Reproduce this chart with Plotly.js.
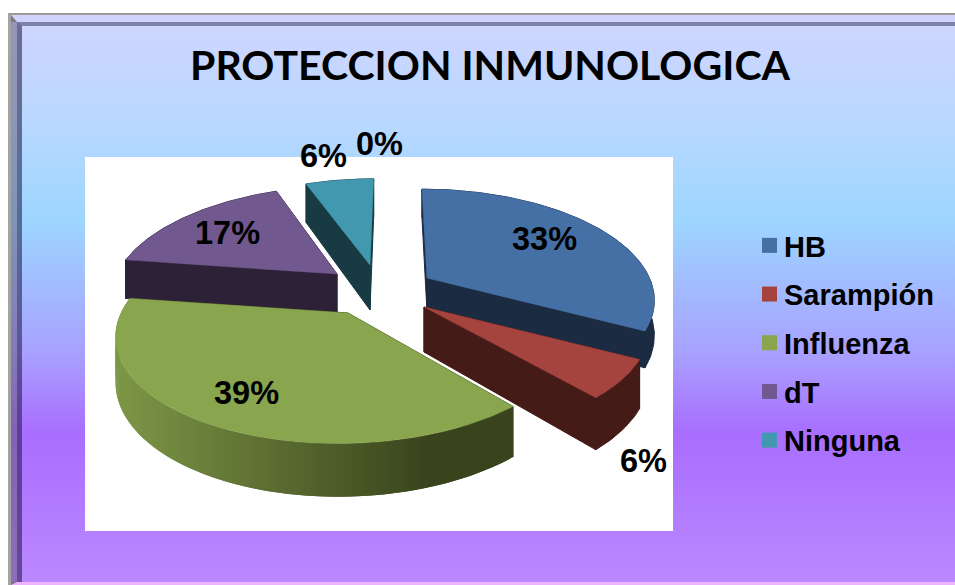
<!DOCTYPE html>
<html>
<head>
<meta charset="utf-8">
<script src="https://cdn.plot.ly/plotly-3.0.1.min.js"></script>
<style>
html,body{margin:0;padding:0;background:#fff;overflow:hidden;width:955px;height:585px}
#f1,#f2,#f3,#f4{position:absolute;box-sizing:border-box}
#f1{left:8px;top:13px;width:960px;height:580px;background:#9b9b94;border-style:solid;border-color:#9b9b94 transparent #9a86a8 #a3a3a3;border-width:2px 0 8px 3px}
#f2{left:0;top:0;right:0;bottom:0;background:linear-gradient(180deg,#ced5ff 0%,#b8d8ff 18%,#9dd6ff 35%,#a8a0ff 59%,#a86eff 73%,#bb88ff 100%);background-origin:border-box;border-style:solid;border-color:#d0d3fb transparent #ecb4ff rgba(95,85,110,.5);border-width:7px 0 3px 6px}
#f3{left:0;top:0;right:0;bottom:0;border-style:solid;border-color:#7e82aa transparent transparent rgba(30,20,70,.55);border-width:4px 0 0 5px}
#f4{left:0;top:0;right:0;bottom:0;background:linear-gradient(180deg,#ced5ff 0%,#b8d8ff 18%,#9dd6ff 35%,#a8a0ff 59%,#a86eff 73%,#bb88ff 100%)}
#chart{position:absolute;left:0;top:0;width:955px;height:585px}
</style>
</head>
<body>
<div id="f1"><div id="f2"><div id="f3"><div id="f4"></div></div></div></div>
<div id="chart"></div>
<script>
// Data
const categories = ['HB', 'Sarampión', 'Influenza', 'dT', 'Ninguna', ''];
const values = [33, 6, 39, 17, 6, 0];
const chartTitle = 'PROTECCION INMUNOLOGICA';

// Styles and layout (pixel-like axis space)
const topColors = ['#4470a5', '#a5433f', '#89a54e', '#71588f', '#4198af'];
const wallColors = ['#1a2b42', '#451b18', '#39441d', '#2c2136', '#183a43'];
const sliceCentreX = [427, 424, 348, 337, 370];
const sliceCentreY = [278, 307, 313, 274, 265];
const sliceRadiusScale = [0.98, 0.97, 1.0, 0.97, 0.95];
const sliceDepthScale = [0.75, 1, 0.97, 0.88, 1];
const labelX = [544, 643, 246, 227, 323, 379];
const labelY = [239, 461, 393, 233, 156, 144];
const drawOrder = [4, 3, 0, 1, 2];
const RX = 227, RY = 107, K = 0.18, VPX = 394, DEPTH = 45;

const total = values.reduce((a, b) => a + b, 0);
const starts = [];
values.reduce((acc, v, i) => { starts[i] = acc; return acc + v / total * 360; }, 0);

function project(i, deg) {
  const t = deg * Math.PI / 180, u = Math.sin(t), v = -Math.cos(t);
  const s = 1 / (1 - K * v);
  const r = sliceRadiusScale[i];
  return {
    x: VPX + (sliceCentreX[i] + RX * r * u - VPX) * s,
    y: sliceCentreY[i] + RY * r * v * s,
    d: DEPTH * sliceDepthScale[i] * s
  };
}
function poly(xs, ys, color, width) {
  return { type: 'scatter', mode: 'lines', x: xs.concat([xs[0]]), y: ys.concat([ys[0]]),
    fill: 'toself', fillcolor: color, line: { color: color, width: width },
    hoverinfo: 'skip', showlegend: false };
}
function lerpColor(a, b, t) {
  return 'rgb(' + a.map((c, j) => Math.round(c + (b[j] - c) * t)).join(',') + ')';
}

const traces = [];
drawOrder.forEach(i => {
  const a0 = starts[i], a1 = a0 + values[i] / total * 360;
  const ax = sliceCentreX[i], ay = sliceCentreY[i], ad = DEPTH * sliceDepthScale[i];
  const steps = Math.max(8, Math.round(a1 - a0));
  const rim = [];
  for (let k = 0; k <= steps; k++) rim.push(project(i, a0 + (a1 - a0) * k / steps));
  const first = rim[0], last = rim[rim.length - 1];
  // radial walls
  traces.push(poly([ax, first.x, first.x, ax], [ay, first.y, first.y + first.d, ay + ad], wallColors[i], 1));
  traces.push(poly([ax, last.x, last.x, ax], [ay, last.y, last.y + last.d, ay + ad], wallColors[i], 1));
  // outer wall
  if (i === 2) {
    for (let k = 0; k < steps; k++) {
      const p = rim[k], q = rim[Math.min(steps, k + 2)];
      const t = Math.min(1, Math.max(0, (rim[k].x - 120) / 310));
      traces.push(poly([p.x, q.x, q.x, p.x], [p.y, q.y, q.y + q.d, p.y + p.d],
        lerpColor([125, 150, 70], [57, 68, 29], t), 0));
    }
  } else {
    traces.push(poly(rim.map(p => p.x).concat(rim.map(p => p.x).reverse()),
      rim.map(p => p.y).concat(rim.map(p => p.y + p.d).reverse()), wallColors[i], 1));
  }
  // top face
  traces.push(poly([ax].concat(rim.map(p => p.x)), [ay].concat(rim.map(p => p.y)), topColors[i], 0.5));
});

// Legend entries
categories.forEach((c, i) => {
  if (!c) return;
  traces.push({ type: 'scatter', mode: 'markers', x: [null], y: [null], name: c, legendgroup: c,
    marker: { symbol: 'square', size: 15, color: topColors[i] }, hoverinfo: 'skip', showlegend: true });
});

const annotations = values.map((v, i) => ({
  x: labelX[i], y: labelY[i], xref: 'x', yref: 'y', text: '<b>' + v + '%</b>', showarrow: false,
  xanchor: 'center', yanchor: 'middle',
  font: { family: 'Liberation Sans', size: 32.5, color: '#000' }
}));
annotations.push({ x: 490.5, y: 64, xref: 'x', yref: 'y', text: '<b>' + chartTitle + '</b>', showarrow: false,
  xanchor: 'center', yanchor: 'middle', font: { family: 'Lato', size: 41, color: '#000' } });

const layout = {
  width: 955, height: 585, margin: { l: 0, r: 0, t: 0, b: 0 },
  paper_bgcolor: 'rgba(0,0,0,0)', plot_bgcolor: 'rgba(0,0,0,0)',
  xaxis: { range: [0, 955], visible: false, fixedrange: true },
  yaxis: { range: [585, 0], visible: false, fixedrange: true },
  shapes: [{ type: 'rect', layer: 'below', xref: 'x', yref: 'y', x0: 85, x1: 673, y0: 157, y1: 531,
    fillcolor: '#fff', line: { width: 0 } }],
  annotations: annotations,
  showlegend: true,
  legend: { x: 744 / 955, xanchor: 'left', y: 1 - 220 / 585, yanchor: 'top', bgcolor: 'rgba(0,0,0,0)',
    font: { family: 'Liberation Sans', size: 29, color: '#000', weight: 'bold' },
    tracegroupgap: 8, itemclick: false, itemdoubleclick: false, traceorder: 'grouped' }
};

Plotly.newPlot('chart', traces, layout, { displayModeBar: false, staticPlot: true }).then(() => {
  document.querySelectorAll('#chart .legendsymbols').forEach(el => el.setAttribute('transform', 'translate(5.5,0)'));
});
</script>
</body>
</html>
